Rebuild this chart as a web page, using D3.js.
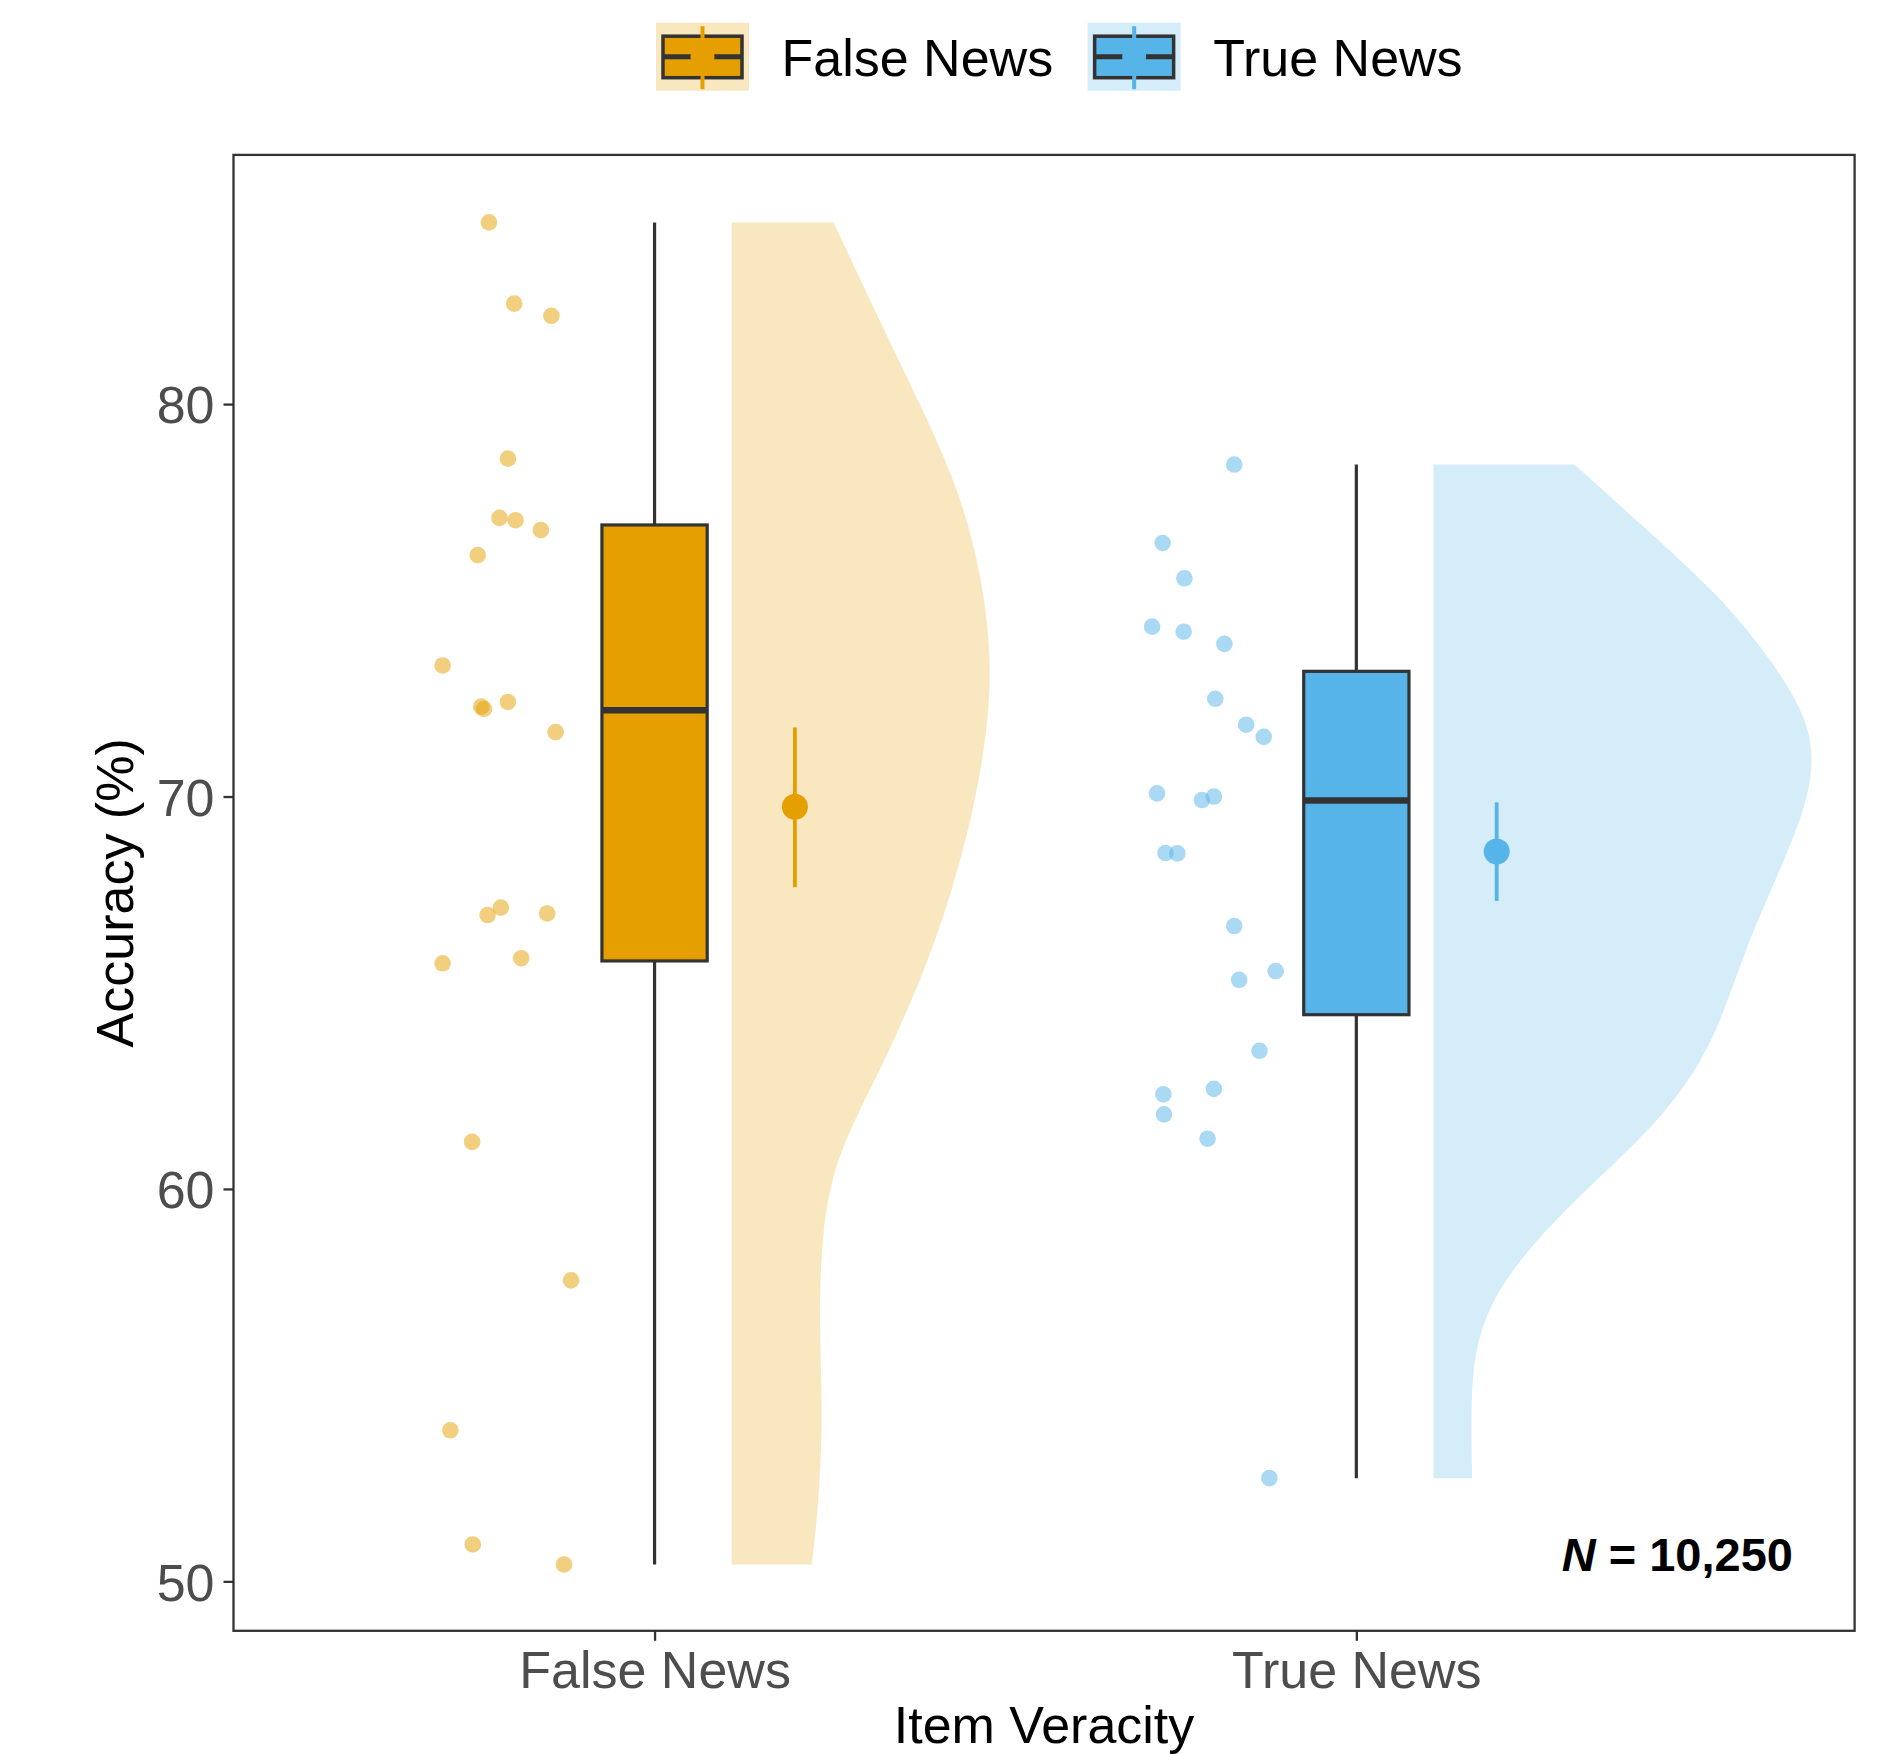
<!DOCTYPE html>
<html>
<head>
<meta charset="utf-8">
<script src="https://cdn.jsdelivr.net/npm/d3@7"></script>
<style>
  body { margin: 0; background: #fff; }
  text { font-family: "Liberation Sans", Arial, Helvetica, sans-serif; }
</style>
</head>
<body>
<script>
// categories and colours
var categories = ['False News', 'True News'];
var colors = ['#E69F00', '#56B4E9'];

// box stats
var boxMin = [50.43, 52.63];
var boxQ1 = [65.81, 64.44];
var boxMedian = [72.2, 69.9];
var boxQ3 = [76.92, 73.19];
var boxMax = [84.63, 78.46];

// mean +/- interval
var meanValue = [69.74, 68.6];
var meanLow = [67.69, 67.34];
var meanHigh = [71.76, 69.85];

// individual points (accuracy) and their jitter offset (in category units)
var falseAcc = [84.63, 82.56, 82.25, 78.61, 77.10, 77.04, 76.79, 76.15, 73.34, 72.29, 72.23, 72.41, 71.64,
    67.17, 66.98, 67.02, 65.75, 65.88, 61.2, 57.67, 53.85, 50.94, 50.43];
var falseJitter = [-0.236, -0.200, -0.147, -0.209, -0.221, -0.198, -0.162, -0.252, -0.302, -0.247, -0.243, -0.209, -0.141,
    -0.219, -0.238, -0.153, -0.302, -0.190, -0.260, -0.119, -0.291, -0.259, -0.129];
var trueAcc = [78.46, 76.46, 75.56, 74.33, 74.20, 73.89, 72.49, 71.83, 71.52, 70.08, 69.91, 70.0, 68.56,
    68.55, 66.7, 65.33, 65.55, 63.52, 62.41, 62.55, 61.9, 61.28, 52.63];
var trueJitter = [-0.174, -0.276, -0.245, -0.291, -0.246, -0.188, -0.201, -0.157, -0.132, -0.284, -0.220, -0.203, -0.272,
    -0.255, -0.174, -0.167, -0.115, -0.138, -0.275, -0.203, -0.274, -0.212, -0.124];

// half violin outlines: accuracy level -> width (category units)
var falseViolinAcc = [50.43, 51.81, 53.76, 55.5, 57.0, 58.64, 60.2, 61.6, 63.32, 66.05, 68.79, 71.32, 73.66, 76.2, 78.15, 80.1, 82.3, 84.63];
var falseViolinW = [0.114, 0.123, 0.129, 0.127, 0.125, 0.128, 0.140, 0.170, 0.220, 0.287, 0.334, 0.363, 0.372, 0.350, 0.316, 0.2655, 0.206, 0.145];
var trueViolinAcc = [52.63, 54.62, 56.16, 57.72, 59.61, 61.51, 63.23, 64.61, 66.33, 68.06, 69.78, 71.07, 72.19, 73.57, 75.12, 76.67, 78.46];
var trueViolinW = [0.055, 0.053, 0.060, 0.098, 0.193, 0.312, 0.383, 0.416, 0.449, 0.492, 0.532, 0.543, 0.527, 0.478, 0.407, 0.312, 0.201];

var yTicks = [50, 60, 70, 80];

var W = 1897, H = 1754;
var panel = {left: 233.5, right: 1854.6, top: 154.9, bottom: 1630.8};

var svg = d3.select('body').append('svg')
    .attr('width', W)
    .attr('height', H)
    .style('background', '#fff');

var x = d3.scaleLinear().domain([0.4, 2.71]).range([panel.left, panel.right]);
var y = d3.scaleLinear().domain([48.74, 86.35]).range([panel.bottom, panel.top]);

var groups = [
    {i: 0, pos: 1, acc: falseAcc, jit: falseJitter, vAcc: falseViolinAcc, vW: falseViolinW},
    {i: 1, pos: 2, acc: trueAcc, jit: trueJitter, vAcc: trueViolinAcc, vW: trueViolinW}
];

var violinOffset = 0.11;
var boxHalf = 0.075;
var meanOffset = 0.2;

// violins
var area = d3.area()
    .curve(d3.curveBasis)
    .y(function(d){ return y(d.a); })
    .x0(function(d){ return x(d.base); })
    .x1(function(d){ return x(d.base + d.w); });

var violins = svg.append('g').attr('id', 'violins');
groups.forEach(function(g){
    var pts = g.vAcc.map(function(a, k){ return {a: a, w: g.vW[k], base: g.pos + violinOffset}; });
    violins.append('path')
        .datum(pts)
        .attr('d', area)
        .attr('fill', colors[g.i])
        .attr('fill-opacity', 0.25);
});

// jittered points
var dots = svg.append('g').attr('id', 'dots');
groups.forEach(function(g){
    dots.selectAll('circle.g' + g.i)
        .data(g.acc)
        .enter()
        .append('circle')
        .attr('class', 'g' + g.i)
        .attr('cx', function(d, k){ return x(g.pos + g.jit[k]); })
        .attr('cy', function(d){ return y(d); })
        .attr('r', 8.3)
        .attr('fill', colors[g.i])
        .attr('fill-opacity', 0.5);
});

// boxplots
var boxes = svg.append('g').attr('id', 'boxes');
groups.forEach(function(g){
    var b = boxes.append('g');
    b.append('line')
        .attr('x1', x(g.pos)).attr('x2', x(g.pos))
        .attr('y1', y(boxMax[g.i])).attr('y2', y(boxQ3[g.i]))
        .attr('stroke', '#333').attr('stroke-width', 3.2);
    b.append('line')
        .attr('x1', x(g.pos)).attr('x2', x(g.pos))
        .attr('y1', y(boxQ1[g.i])).attr('y2', y(boxMin[g.i]))
        .attr('stroke', '#333').attr('stroke-width', 3.2);
    b.append('rect')
        .attr('x', x(g.pos - boxHalf))
        .attr('width', x(g.pos + boxHalf) - x(g.pos - boxHalf))
        .attr('y', y(boxQ3[g.i]))
        .attr('height', y(boxQ1[g.i]) - y(boxQ3[g.i]))
        .attr('fill', colors[g.i])
        .attr('stroke', '#333')
        .attr('stroke-width', 3.2);
    b.append('line')
        .attr('x1', x(g.pos - boxHalf)).attr('x2', x(g.pos + boxHalf))
        .attr('y1', y(boxMedian[g.i])).attr('y2', y(boxMedian[g.i]))
        .attr('stroke', '#333').attr('stroke-width', 6.5);
});

// mean + interval
var means = svg.append('g').attr('id', 'means');
groups.forEach(function(g){
    means.append('line')
        .attr('x1', x(g.pos + meanOffset)).attr('x2', x(g.pos + meanOffset))
        .attr('y1', y(meanHigh[g.i])).attr('y2', y(meanLow[g.i]))
        .attr('stroke', colors[g.i]).attr('stroke-width', 3.8);
    means.append('circle')
        .attr('cx', x(g.pos + meanOffset))
        .attr('cy', y(meanValue[g.i]))
        .attr('r', 13)
        .attr('fill', colors[g.i]);
});

// panel border
svg.append('rect')
    .attr('x', panel.left).attr('y', panel.top)
    .attr('width', panel.right - panel.left)
    .attr('height', panel.bottom - panel.top)
    .attr('fill', 'none')
    .attr('stroke', '#333')
    .attr('stroke-width', 2.3);

// axes
var yAxis = svg.append('g')
    .attr('transform', 'translate(' + panel.left + ',0)')
    .call(d3.axisLeft(y).tickValues(yTicks).tickSize(10).tickPadding(9).tickFormat(d3.format('d')));
var xAxis = svg.append('g')
    .attr('transform', 'translate(0,' + panel.bottom + ')')
    .call(d3.axisBottom(x).tickValues([1, 2]).tickSize(10).tickPadding(8)
        .tickFormat(function(d){ return categories[d - 1]; }));
[yAxis, xAxis].forEach(function(a){
    a.select('.domain').remove();
    a.selectAll('.tick line').attr('stroke', '#333').attr('stroke-width', 2.3);
    a.selectAll('.tick text')
        .attr('fill', '#4D4D4D')
        .style('font-size', '52px')
        .style('font-family', '"Liberation Sans", Arial, sans-serif');
});
yAxis.selectAll('.tick text').attr('dy', '0.36em');
xAxis.selectAll('.tick text').attr('dy', '0.76em');

// axis titles
svg.append('text')
    .attr('x', (panel.left + panel.right) / 2)
    .attr('y', 1743)
    .attr('text-anchor', 'middle')
    .style('font-size', '52px')
    .attr('fill', '#000')
    .text('Item Veracity');
svg.append('text')
    .attr('transform', 'translate(133,' + ((panel.top + panel.bottom) / 2) + ') rotate(-90)')
    .attr('text-anchor', 'middle')
    .style('font-size', '52px')
    .attr('fill', '#000')
    .text('Accuracy (%)');

// N annotation
var nText = svg.append('text')
    .attr('x', 1793)
    .attr('y', 1571)
    .attr('text-anchor', 'end')
    .style('font-size', '47px')
    .style('font-weight', 'bold')
    .attr('fill', '#000');
nText.append('tspan').style('font-style', 'italic').text('N');
nText.append('tspan').text(' = 10,250');

// legend
var legend = svg.append('g').attr('id', 'legend');
var lx = 656;
categories.forEach(function(c, i){
    var k = legend.append('g').attr('transform', 'translate(' + lx + ',22.7)');
    k.append('rect')
        .attr('width', 93).attr('height', 68)
        .attr('fill', colors[i]).attr('fill-opacity', 0.25);
    k.append('rect')
        .attr('x', 7).attr('y', 13.5).attr('width', 79).attr('height', 41.5)
        .attr('fill', colors[i]).attr('stroke', '#333').attr('stroke-width', 3.5);
    k.append('line')
        .attr('x1', 7).attr('x2', 86).attr('y1', 34).attr('y2', 34)
        .attr('stroke', '#333').attr('stroke-width', 5);
    k.append('circle')
        .attr('cx', 46.5).attr('cy', 34).attr('r', 12)
        .attr('fill', colors[i]);
    k.append('line')
        .attr('x1', 46.5).attr('x2', 46.5).attr('y1', 3.5).attr('y2', 66.5)
        .attr('stroke', colors[i]).attr('stroke-width', 4);
    var t = legend.append('text')
        .attr('x', lx + 125.5)
        .attr('y', 76)
        .style('font-size', '52px')
        .attr('fill', '#000')
        .text(c);
    lx = lx + 125.5 + t.node().getComputedTextLength() + 34.5;
});
</script>
</body>
</html>
